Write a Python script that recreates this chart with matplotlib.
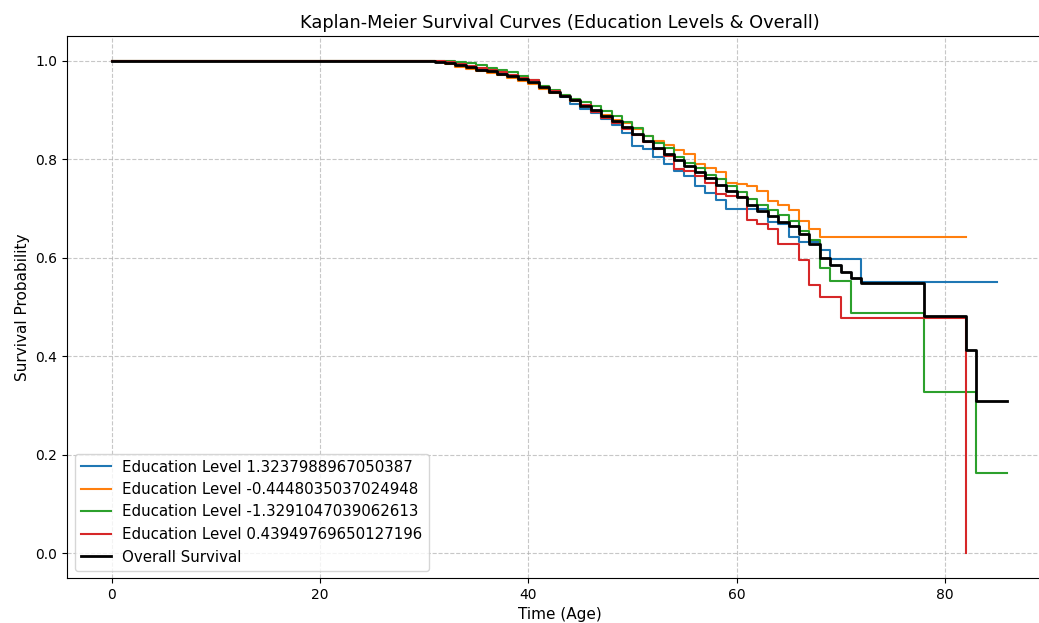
import matplotlib
matplotlib.use("Agg")
import matplotlib.pyplot as plt

# Kaplan-Meier step values (age -> survival after the step)
ages_to_72 = [0] + list(range(31, 73))

blue_times = ages_to_72 + [85]
blue_surv = [1.0,
             0.998, 0.995, 0.991, 0.987, 0.982, 0.977, 0.972, 0.967, 0.961, 0.955,
             0.945, 0.936, 0.927, 0.913, 0.902, 0.893, 0.881, 0.869, 0.854, 0.826,
             0.820, 0.805, 0.790, 0.777, 0.766, 0.746, 0.731, 0.717, 0.698, 0.698,
             0.698, 0.698, 0.672, 0.668, 0.642, 0.632, 0.632, 0.615, 0.597, 0.597,
             0.597, 0.551,
             0.551]

orange_times = [0] + list(range(31, 69)) + [82]
orange_surv = [1.0,
               0.998, 0.994, 0.988, 0.984, 0.979, 0.975, 0.970, 0.964, 0.958, 0.953,
               0.942, 0.935, 0.928, 0.918, 0.907, 0.898, 0.889, 0.880, 0.874, 0.862,
               0.847, 0.836, 0.828, 0.818, 0.810, 0.790, 0.783, 0.773, 0.752, 0.750,
               0.746, 0.736, 0.716, 0.706, 0.696, 0.675, 0.659, 0.642,
               0.642]

green_times = [0] + list(range(31, 70)) + [71, 78, 83, 86]
green_surv = [1.0,
              1.000, 0.999, 0.997, 0.996, 0.992, 0.986, 0.982, 0.976, 0.968, 0.960,
              0.949, 0.940, 0.930, 0.922, 0.916, 0.908, 0.898, 0.888, 0.876, 0.864,
              0.847, 0.832, 0.822, 0.805, 0.793, 0.783, 0.768, 0.760, 0.746, 0.733,
              0.719, 0.708, 0.697, 0.686, 0.675, 0.655, 0.635, 0.580, 0.553,
              0.488, 0.327, 0.164, 0.164]

red_times = [0] + list(range(31, 71)) + [82]
red_surv = [1.0,
            1.000, 0.997, 0.993, 0.989, 0.985, 0.981, 0.976, 0.970, 0.965, 0.961,
            0.947, 0.938, 0.929, 0.920, 0.909, 0.896, 0.883, 0.874, 0.861, 0.850,
            0.835, 0.820, 0.806, 0.781, 0.776, 0.766, 0.752, 0.730, 0.726, 0.723,
            0.677, 0.669, 0.659, 0.628, 0.628, 0.596, 0.544, 0.520, 0.520, 0.477,
            0.0]

overall_times = ages_to_72 + [78, 82, 83, 86]
overall_surv = [1.0,
                0.998, 0.995, 0.991, 0.987, 0.982, 0.978, 0.973, 0.968, 0.962, 0.957,
                0.946, 0.937, 0.929, 0.920, 0.908, 0.899, 0.887, 0.877, 0.865, 0.851,
                0.836, 0.823, 0.810, 0.798, 0.787, 0.774, 0.761, 0.748, 0.735, 0.724,
                0.708, 0.695, 0.685, 0.672, 0.664, 0.648, 0.627, 0.600, 0.585, 0.571,
                0.558, 0.549,
                0.482, 0.413, 0.310, 0.310]

edu_levels = ["1.3237988967050387", "-0.4448035037024948",
              "-1.3291047039062613", "0.43949769650127196"]

groups = [(blue_times, blue_surv, "tab:blue"),
          (orange_times, orange_surv, "tab:orange"),
          (green_times, green_surv, "tab:green"),
          (red_times, red_surv, "tab:red")]

fig = plt.figure(figsize=(10.39, 6.23), dpi=100)
# axes reach past the right edge, like the cropped reference
ax = fig.add_axes([67 / 1039, 45 / 623, 985 / 1039, 542 / 623])

for (t, s, c), lvl in zip(groups, edu_levels):
    ax.step(t, s, where="post", color=c, linewidth=1.5, label=f"Education Level {lvl}")

ax.step(overall_times, overall_surv, where="post", color="black", linewidth=2,
        label="Overall Survival")

ax.set_xlim(-4.3, 90.3)
ax.set_ylim(-0.05, 1.05)
ax.set_title("Kaplan-Meier Survival Curves (Education Levels & Overall)", fontsize=12.8)
ax.set_xlabel("Time (Age)", fontsize=11)
ax.set_ylabel("Survival Probability", fontsize=11)
ax.tick_params(labelsize=10)
ax.grid(True, linestyle="--", alpha=0.7)
ax.legend(loc="lower left", fontsize=10.8)

fig.savefig("out.png", dpi=100)
